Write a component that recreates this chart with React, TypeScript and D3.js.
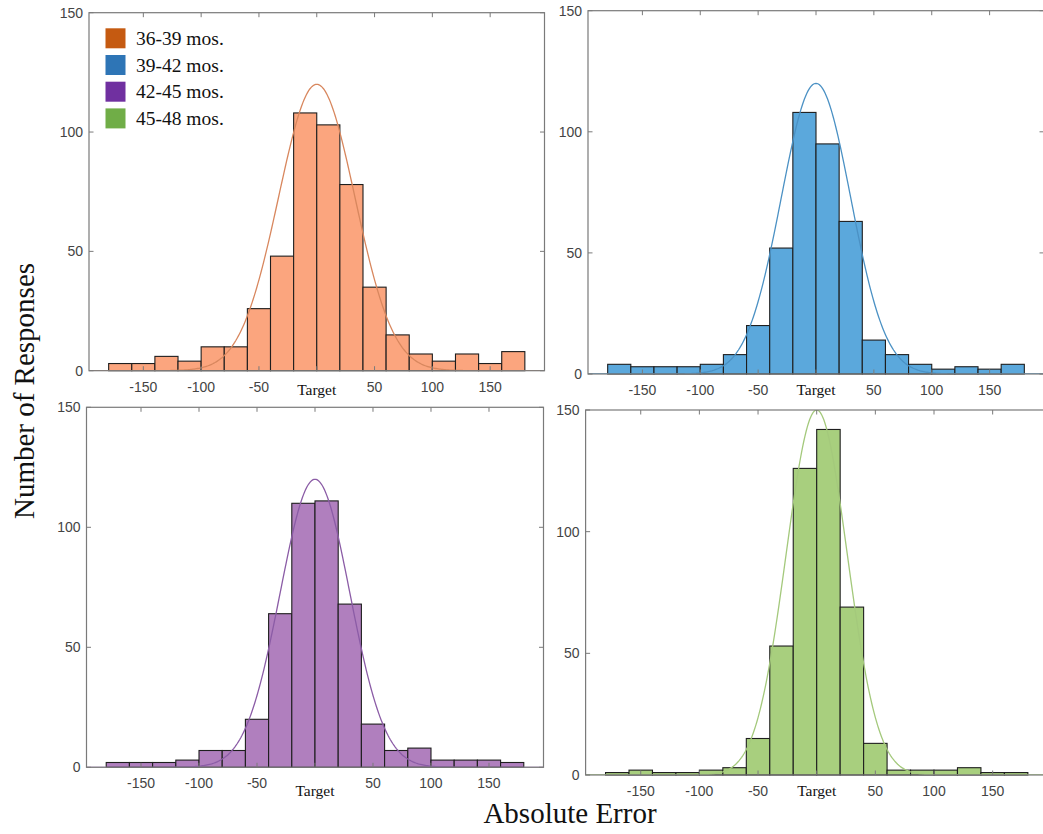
import React from 'react';
import * as d3 from 'd3';

// Histogram bins (absolute error, degrees)
const binEdges = [-180, -160, -140, -120, -100, -80, -60, -40, -20, 0, 20, 40, 60, 80, 100, 120, 140, 160, 180];

// Counts per bin for each age group
const counts3639 = [3, 3, 6, 4, 10, 10, 26, 48, 108, 103, 78, 35, 15, 7, 4, 7, 3, 8];
const counts3942 = [4, 3, 3, 3, 4, 8, 20, 52, 108, 95, 63, 14, 8, 4, 2, 3, 2, 4];
const counts4245 = [2, 2, 2, 3, 7, 7, 20, 64, 110, 111, 68, 18, 7, 8, 3, 3, 3, 2];
const counts4548 = [1, 2, 1, 1, 2, 3, 15, 53, 126, 142, 69, 13, 2, 2, 2, 3, 1, 1];

const groupLabels = ['36-39 mos.', '39-42 mos.', '42-45 mos.', '45-48 mos.'];
const legendColors = ['#c55a11', '#2e75b6', '#7030a0', '#70ad47'];
const barColors = ['#fba57e', '#5ba8dc', '#b07fbe', '#a8cf7e'];
const curveColors = ['#d8875e', '#4b91c4', '#8b5ca6', '#a4c97c'];

// normal fit of each group
const fitMean = [0, 0, 0, 0];
const fitSd = [33, 30, 30, 26];
const fitPeak = [120, 120, 120, 150];

const xTicks = [-150, -100, -50, 0, 50, 100, 150];
const yTicks = [0, 50, 100, 150];

const allCounts = [counts3639, counts3942, counts4245, counts4548];

// panel placement (pixel boxes of each axes)
const panels = [
  { left: 89, right: 544.5, top: 12.7, bottom: 370.7, targetDy: 24.5 },
  { left: 588, right: 1044, top: 10.7, bottom: 374, targetDy: 20.5 },
  { left: 86.5, right: 543.5, top: 407.3, bottom: 767.3, targetDy: 28.5 },
  { left: 585.6, right: 1047.8, top: 410, bottom: 775, targetDy: 21 },
];

const W = 1043;
const H = 834;
const sans = '"Liberation Sans", Arial, sans-serif';
const serif = '"Liberation Serif", "Times New Roman", serif';
const axisGray = '#7a7a7a';
const tickText = '#444';

const Panel: React.FC<{ idx: number }> = ({ idx }) => {
  const p = panels[idx];
  const counts = allCounts[idx];
  const x = d3.scaleLinear().domain([-197, 197]).range([p.left, p.right]);
  const y = d3.scaleLinear().domain([0, 150]).range([p.bottom, p.top]);

  const curve = d3
    .line<number>()
    .x(v => x(v))
    .y(v => y(fitPeak[idx] * Math.exp(-((v - fitMean[idx]) ** 2) / (2 * fitSd[idx] ** 2))))
    .curve(d3.curveLinear);
  const curvePts = d3.range(-197, 197.5, 1);

  const clipId = `clip-${idx}`;
  const tickLen = 4.5;

  return (
    <g>
      <defs>
        <clipPath id={clipId}>
          <rect x={p.left} y={p.top} width={p.right - p.left} height={p.bottom - p.top} />
        </clipPath>
      </defs>

      {/* bars */}
      {counts.map((c, i) => (
        <rect
          key={i}
          x={x(binEdges[i])}
          y={y(c)}
          width={x(binEdges[i + 1]) - x(binEdges[i])}
          height={y(0) - y(c)}
          fill={barColors[idx]}
          stroke="#1e1e1e"
          strokeWidth={1.1}
        />
      ))}

      {/* fitted normal curve */}
      <path
        d={curve(curvePts) || ''}
        fill="none"
        stroke={curveColors[idx]}
        strokeWidth={1.3}
        clipPath={`url(#${clipId})`}
      />

      {/* inward ticks */}
      {xTicks.map(t => (
        <g key={`xt${t}`} stroke={axisGray} strokeWidth={1}>
          <line x1={x(t)} x2={x(t)} y1={p.bottom} y2={p.bottom - tickLen} />
          <line x1={x(t)} x2={x(t)} y1={p.top} y2={p.top + tickLen} />
        </g>
      ))}
      {yTicks.map(t => (
        <g key={`yt${t}`} stroke={axisGray} strokeWidth={1}>
          <line x1={p.left} x2={p.left + tickLen} y1={y(t)} y2={y(t)} />
          <line x1={p.right} x2={p.right - tickLen} y1={y(t)} y2={y(t)} />
        </g>
      ))}

      {/* axes box */}
      <rect
        x={p.left}
        y={p.top}
        width={p.right - p.left}
        height={p.bottom - p.top}
        fill="none"
        stroke={axisGray}
        strokeWidth={1.2}
      />

      {/* tick labels */}
      {xTicks.map(t =>
        t === 0 ? (
          <text
            key={`xl${t}`}
            x={x(t)}
            y={p.bottom + p.targetDy}
            textAnchor="middle"
            fontFamily={serif}
            fontSize={15.5}
            fill="#111"
          >
            Target
          </text>
        ) : (
          <text
            key={`xl${t}`}
            x={x(t)}
            y={p.bottom + 21}
            textAnchor="middle"
            fontFamily={sans}
            fontSize={14}
            fill={tickText}
          >
            {t < 0 ? `-${Math.abs(t)}` : t}
          </text>
        )
      )}
      {yTicks.map(t => (
        <text
          key={`yl${t}`}
          x={p.left - 6}
          y={y(t)}
          dy="0.35em"
          textAnchor="end"
          fontFamily={sans}
          fontSize={14}
          fill={tickText}
        >
          {t}
        </text>
      ))}
    </g>
  );
};

export default function App() {
  return (
    <svg
      width={W}
      height={H}
      style={{ position: 'fixed', left: 0, top: 0, background: '#fff', display: 'block' }}
    >
      <rect x={0} y={0} width={W} height={H} fill="#fff" />
      {panels.map((_, i) => (
        <Panel key={i} idx={i} />
      ))}

      {/* legend in first panel */}
      {groupLabels.map((lab, i) => (
        <g key={lab} transform={`translate(105.5, ${28.3 + i * 26.7})`}>
          <rect x={0} y={0} width={20} height={20} fill={legendColors[i]} />
          <text x={30.5} y={16.7} fontFamily={serif} fontSize={19.5} fill="#111">
            {lab}
          </text>
        </g>
      ))}

      {/* shared axis titles */}
      <text
        transform="translate(33.5, 391) rotate(-90)"
        textAnchor="middle"
        fontFamily={serif}
        fontSize={29}
        fill="#111"
      >
        Number of Responses
      </text>
      <text x={570} y={823} textAnchor="middle" fontFamily={serif} fontSize={29} fill="#111">
        Absolute Error
      </text>
    </svg>
  );
}
